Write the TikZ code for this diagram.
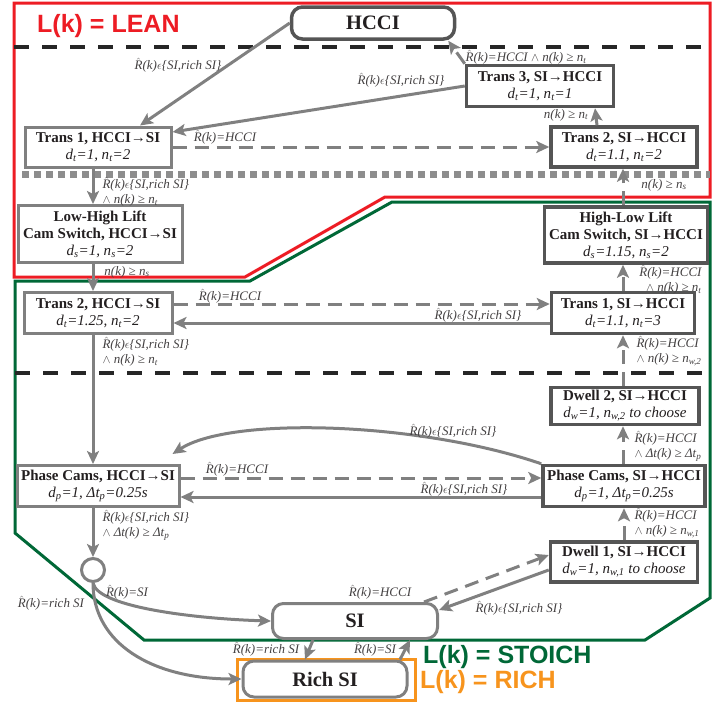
\documentclass[tikz,border=0pt]{standalone}
\usepackage{fontspec}
\setmainfont{Liberation Serif}
\newfontfamily\lkfont{Liberation Sans}
\usepackage{xcolor}
\usepackage{tikz}
\usetikzlibrary{arrows.meta}

\definecolor{lgray}{RGB}{128,128,128}
\definecolor{dgray}{RGB}{85,85,85}
\definecolor{txt}{RGB}{35,31,32}
\definecolor{leanred}{RGB}{237,28,36}
\definecolor{stoichgreen}{RGB}{0,104,55}
\definecolor{richorange}{RGB}{247,148,29}

\newcommand{\Rk}{$\hat{\mbox{R}}$(k)}
\newcommand{\Rin}{\Rk$\epsilon$\{SI,rich SI\}}
\newcommand{\lo}[1]{\textsubscript{#1}}

\begin{document}
\begin{tikzpicture}[
x=1pt, y=-1pt,
mode/.style={draw=lgray, fill=white, line width=3pt, rounded corners=11pt, minimum width=164pt, minimum height=35pt, font=\fontsize{20.5}{22}\selectfont\bfseries, text=txt},
tbox/.style={draw=lgray, fill=white, line width=3pt, align=center, inner sep=2pt, font=\fontsize{15}{17}\selectfont, text=txt},
tboxd/.style={tbox, draw=dgray, line width=3.5pt},
arr/.style={-{Stealth[length=13pt, width=12pt, inset=3pt]}, draw=lgray, line width=3pt},
darr/.style={arr, dash pattern=on 14pt off 8pt},
lbl/.style={font=\fontsize{13}{15}\selectfont\itshape, text=txt!85, inner sep=0pt},
frame/.style={line width=3pt, line join=miter},
sep/.style={draw=black!85, line width=4pt, dash pattern=on 15pt off 13pt},
dotsep/.style={draw=lgray!90, line width=7pt, dash pattern=on 7pt off 5pt},
regionlbl/.style={font=\lkfont\fontsize{25}{28}\selectfont\bfseries, anchor=base west, inner sep=0pt}
]
\useasboundingbox (0,0) rectangle (719,702);

% load regions
\draw[frame, leanred] (14,3) -- (710,3) -- (710,197) -- (385,197) -- (245,277) -- (14,277) -- cycle;
\draw[frame, stoichgreen] (15,281) -- (250,281) -- (392,202) -- (710,202) -- (710,598) -- (645,640) -- (144,640) -- (15,533) -- cycle;
\draw[frame, richorange] (237,659) rectangle (415,700);
\node[regionlbl, text=leanred] (lean) at (37,32) {L(k) = LEAN};
\node[regionlbl, text=stoichgreen] (stoich) at (423,663) {L(k) = STOICH};
\node[regionlbl, text=richorange] (rich-lbl) at (420,688) {L(k) = RICH};

% separators
\draw[sep] (14,47) -- (710,47);
\draw[dotsep] (22,174) -- (710,174);
\draw[sep] (15,373) -- (710,373);

% modes
\node[mode, draw=dgray, line width=3.5pt, minimum width=163pt, minimum height=32pt] (hcci) at (373,23) {HCCI};
\node[mode, minimum width=165pt] (si) at (355,621) {SI};
\node[mode, minimum height=36pt] (rich) at (325,679) {Rich SI};

% HCCI -> SI side
\node[tbox, minimum width=146pt, minimum height=40pt] (t1h) at (98,147) {\textbf{Trans 1, HCCI→SI}\\\textit{d\lo{t}=1, n\lo{t}=2}};
\node[tbox, minimum width=164pt, minimum height=57pt] (lh) at (100,234) {\textbf{Low-High Lift}\\\textbf{Cam Switch, HCCI→SI}\\\textit{d\lo{s}=1, n\lo{s}=2}};
\node[tbox, minimum width=148pt, minimum height=41pt] (t2h) at (98,313) {\textbf{Trans 2, HCCI→SI}\\\textit{d\lo{t}=1.25, n\lo{t}=2}};
\node[tbox, minimum width=162pt, minimum height=41pt] (ph) at (98,486) {\textbf{Phase Cams, HCCI→SI}\\\textit{d\lo{p}=1, Δt\lo{p}=0.25s}};
\node[circle, draw=lgray, fill=white, line width=3pt, minimum size=23pt, inner sep=0pt] (circ) at (93,570) {};

% SI -> HCCI side
\node[tboxd, minimum width=147pt, minimum height=41pt] (t3) at (540,86) {\textbf{Trans 3, SI→HCCI}\\\textit{d\lo{t}=1, n\lo{t}=1}};
\node[tboxd, minimum width=146pt, minimum height=40pt] (t2s) at (624,147) {\textbf{Trans 2, SI→HCCI}\\\textit{d\lo{t}=1.1, n\lo{t}=2}};
\node[tboxd, minimum width=163pt, minimum height=56pt] (hl) at (626,235) {\textbf{High-Low Lift}\\\textbf{Cam Switch, SI→HCCI}\\\textit{d\lo{s}=1.15, n\lo{s}=2}};
\node[tboxd, minimum width=143pt, minimum height=41pt] (t1s) at (623,313) {\textbf{Trans 1, SI→HCCI}\\\textit{d\lo{t}=1.1, n\lo{t}=3}};
\node[tboxd, minimum width=148pt, minimum height=37pt] (dw2) at (625,406) {\textbf{Dwell 2, SI→HCCI}\\\textit{d\lo{w}=1, n\lo{w,2} to choose}};
\node[tboxd, minimum width=162pt, minimum height=41pt] (ps) at (624,486) {\textbf{Phase Cams, SI→HCCI}\\\textit{d\lo{p}=1, Δt\lo{p}=0.25s}};
\node[tboxd, minimum width=147pt, minimum height=40pt] (dw1) at (624,562) {\textbf{Dwell 1, SI→HCCI}\\\textit{d\lo{w}=1, n\lo{w,1} to choose}};

% lean transitions
\draw[arr] (hcci.west) -- ([xshift=42pt]t1h.north) node[lbl] at (178,65) {\Rin};
\draw[arr] (t3.west) -- ([yshift=15pt]t1h.east) node[lbl] at (401,80) {\Rin};
\draw[darr] (t1h.east) -- (t2s.west) node[lbl] at (225,137) {\Rk=HCCI};
\draw[arr] ([xshift=-27pt]t2s.north) -- ([xshift=55pt]t3.south) node[lbl] at (566,115) {n(k) ≥ n\lo{t}};
\draw[darr] (t3.north west) -- ([xshift=-8pt]hcci.south east) node[lbl] at (526,57) {\Rk=HCCI $\wedge$ n(k) ≥ n\lo{t}};
\draw[arr] ([xshift=-5pt]t1h.south) -- ([xshift=-7pt]lh.north) node[lbl, anchor=west, align=left] at (101,192) {\Rin\\$\wedge$ n(k) ≥ n\lo{t}};
\draw[darr] ([xshift=-3pt]hl.north) -- ([xshift=-1pt]t2s.south) node[lbl] at (664,185) {n(k) ≥ n\lo{s}};

% stoich transitions
\draw[arr] ([xshift=-7pt]lh.south) -- ([xshift=-5pt]t2h.north) node[lbl] at (127,272) {n(k) ≥ n\lo{s}};
\draw[darr] ([yshift=9pt]t2h.east) -- ([yshift=9pt]t1s.west) node[lbl] at (230,296) {\Rk=HCCI};
\draw[arr] ([yshift=-10pt]t1s.west) -- ([yshift=-10pt]t2h.east) node[lbl] at (478,315) {\Rin};
\draw[darr] (t1s.north) -- ([xshift=-3pt]hl.south) node[lbl, anchor=east, align=right] at (703,280) {\Rk=HCCI\\$\wedge$ n(k) ≥ n\lo{t}};
\draw[arr] ([xshift=-5pt]t2h.south) -- ([xshift=-5pt]ph.north) node[lbl, anchor=west, align=left] at (101,352) {\Rin\\$\wedge$ n(k) ≥ n\lo{t}};
\draw[darr] ([xshift=-2pt]dw2.north) -- (t1s.south) node[lbl, anchor=west, align=left] at (635,351) {\Rk=HCCI\\$\wedge$ n(k) ≥ n\lo{w,2}};
\draw[darr] ([yshift=8pt]ph.east) -- ([yshift=8pt]ps.west) node[lbl] at (237,469) {\Rk=HCCI};
\draw[arr] ([yshift=-11pt]ps.west) -- ([yshift=-11pt]ph.east) node[lbl] at (464,489) {\Rin};
\draw[arr] (ps.north west) .. controls +(-123,-42) and +(58,-38) .. ([shift={(-8pt,10pt)}]ph.north east) node[lbl] at (453,431) {\Rin};
\draw[darr] ([xshift=-1pt]ps.north) -- ([xshift=-2pt]dw2.south) node[lbl, anchor=west, align=left] at (633,446) {\Rk=HCCI\\$\wedge$ Δt(k) ≥ Δt\lo{p}};
\draw[darr] (dw1.north) -- (ps.south) node[lbl, anchor=west, align=left] at (633,523) {\Rk=HCCI\\$\wedge$ n(k) ≥ n\lo{w,1}};
\draw[arr] ([xshift=-5pt]ph.south) -- (circ.north) node[lbl, anchor=west, align=left] at (101,525) {\Rin\\$\wedge$ Δt(k) ≥ Δt\lo{p}};
\draw[arr] (circ.south) .. controls +(5,25) and +(-70,-2) .. (si.west) node[lbl] at (127,592) {\Rk=SI};
\draw[darr] ([xshift=-15pt]si.north east) -- ([yshift=7pt]dw1.west) node[lbl] at (380,592) {\Rk=HCCI};
\draw[arr] ([yshift=-8pt]dw1.west) -- ([yshift=11pt]si.east) node[lbl] at (519,608) {\Rin};

% rich transitions
\draw[arr] (circ.south) .. controls +(0,60) and +(-90,0) .. (rich.west) node[lbl] at (51,603) {\Rk=rich SI};
\draw[arr] ([xshift=-42pt]si.south) -- ([xshift=-20pt]rich.north) node[lbl] at (266,649) {\Rk=rich SI};
\draw[arr] ([xshift=75pt]rich.north) -- ([xshift=55pt]si.south) node[lbl] at (375,649) {\Rk=SI};
\end{tikzpicture}
\end{document}
